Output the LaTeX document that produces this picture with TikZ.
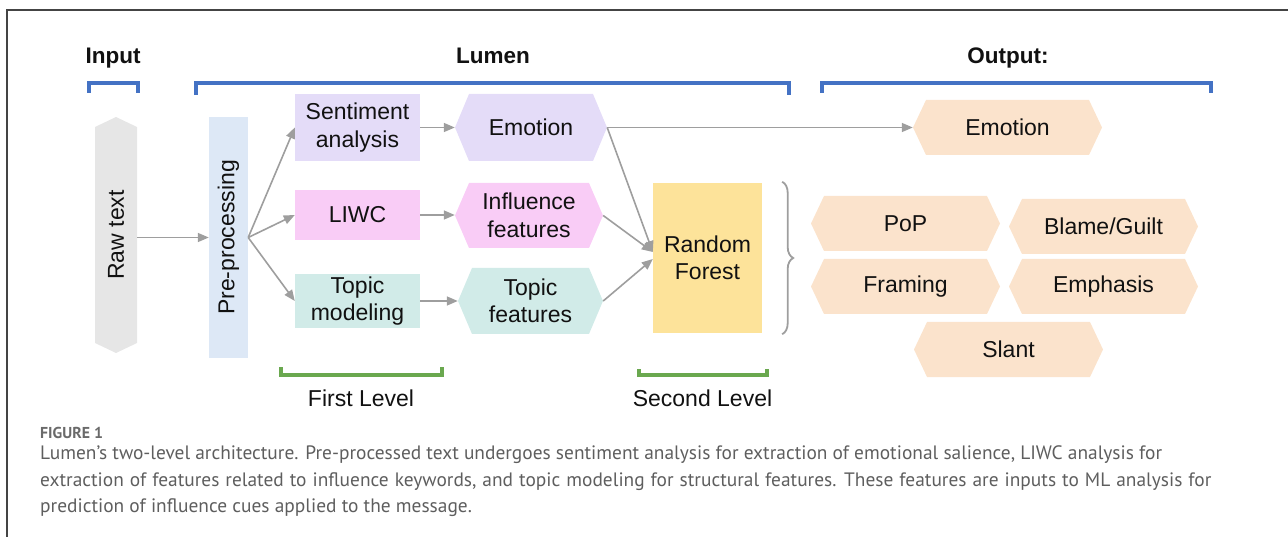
\documentclass[tikz,border=0pt]{standalone}
\usepackage{graphicx}
\usepackage{fontspec}
\setmainfont{Liberation Sans}
\newfontfamily\capfont{PT Sans}
\usetikzlibrary{arrows.meta,decorations.pathreplacing}

\definecolor{rawfill}{HTML}{E6E6E6}
\definecolor{prefill}{HTML}{DDE8F6}
\definecolor{lavfill}{HTML}{E4DCF8}
\definecolor{pinkfill}{HTML}{F9CCF6}
\definecolor{tealfill}{HTML}{D1EBE8}
\definecolor{rffill}{HTML}{FDE39A}
\definecolor{outfill}{HTML}{FBE3CC}
\definecolor{arrowgray}{HTML}{9E9E9E}
\definecolor{groupblue}{HTML}{4472C4}
\definecolor{levelgreen}{HTML}{6AA84F}
\definecolor{captiongray}{HTML}{5E5E5E}
\definecolor{labelgray}{HTML}{6A6A6A}
\definecolor{framegray}{HTML}{444444}
\definecolor{ink}{HTML}{111111}

\tikzset{
  lbl/.style={font=\fontsize{23}{27.5}\selectfont, text=ink, align=center, inner sep=0pt},
  box/.style={lbl, rectangle},
  hexa/.style 2 args={lbl, rectangle,
    path picture={\fill[#1]
      (path picture bounding box.west)
      -- ([xshift=#2]path picture bounding box.north west)
      -- ([xshift=-#2]path picture bounding box.north east)
      -- (path picture bounding box.east)
      -- ([xshift=-#2]path picture bounding box.south east)
      -- ([xshift=#2]path picture bounding box.south west)
      -- cycle;}},
  vhexa/.style 2 args={lbl, rectangle,
    path picture={\fill[#1]
      (path picture bounding box.north)
      -- ([yshift=-#2]path picture bounding box.north east)
      -- ([yshift=#2]path picture bounding box.south east)
      -- (path picture bounding box.south)
      -- ([yshift=#2]path picture bounding box.south west)
      -- ([yshift=-#2]path picture bounding box.north west)
      -- cycle;}},
  outhex/.style={hexa={outfill}{13}, minimum width=189, minimum height=55},
  arr/.style={draw=arrowgray, line width=1.6pt, -{Triangle[length=11pt,width=9pt]}, color=arrowgray},
  title/.style={font=\bfseries\fontsize{22.5}{27}\selectfont, text=ink, inner sep=0pt, anchor=base},
  level/.style={font=\fontsize{23}{27}\selectfont, text=ink, inner sep=0pt, anchor=base},
  groupbr/.style={draw=groupblue, line width=3.5pt},
  levelbr/.style={draw=levelgreen, line width=3.5pt},
  captext/.style={font=\capfont\fontsize{19.4}{23}\selectfont, text=captiongray, inner sep=0pt, anchor=base west},
}

\begin{document}
\begin{tikzpicture}[x=1pt, y=-1pt]
\useasboundingbox (0,0) rectangle (1288,537);

% figure frame
\draw[framegray, line width=1.5pt] (7,537) -- (7,10) -- (1288,10);

% section titles and their brackets
\node[title] (tin) at (113,64) {Input};
\node[title] (tlumen) at (493,64) {Lumen};
\node[title] (tout) at (1008,64) {Output:};
\draw[groupbr] (89,93) -- (89,83) -- (138,83) -- (138,93);
\draw[groupbr] (196,95) -- (196,83) -- (789,83) -- (789,95);
\draw[groupbr] (822,93) -- (822,83) -- (1211,83) -- (1211,93);

% input and pre-processing
\node[vhexa={rawfill}{10}, minimum width=42, minimum height=236] (raw) at (116,235) {\rotatebox{90}{Raw text}};
\node[box, fill=prefill, minimum width=39, minimum height=241] (pre) at (228.5,237.5) {\rotatebox{90}{Pre-processing}};

% first level
\node[box, fill=lavfill, minimum width=125, minimum height=67] (sent) at (357.5,127.5) {Sentiment\\analysis};
\node[box, fill=pinkfill, minimum width=125, minimum height=50] (liwc) at (357.5,215) {LIWC};
\node[box, fill=tealfill, minimum width=125, minimum height=54] (topic) at (357.5,301) {Topic\\modeling};

\node[hexa={lavfill}{14}, minimum width=152, minimum height=67] (emo) at (531,127.5) {Emotion};
\node[hexa={pinkfill}{14}, minimum width=148, minimum height=65] (infl) at (529,215.5) {Influence\\features};
\node[hexa={tealfill}{14}, minimum width=145, minimum height=66] (tfeat) at (530.5,301) {Topic\\features};

% second level
\node[box, fill=rffill, minimum width=109, minimum height=150] (rf) at (707.5,258) {Random\\Forest};

% outputs
\node[outhex] (oemo) at (1007.5,127.5) {Emotion};
\node[outhex] (pop) at (905.5,223.5) {PoP};
\node[outhex] (blame) at (1103.5,226.5) {Blame/Guilt};
\node[outhex] (framing) at (905.5,286.5) {Framing};
\node[outhex] (emph) at (1103.5,286.5) {Emphasis};
\node[outhex] (slant) at (1008.5,349.5) {Slant};

% connectors
\draw[arr] (raw.east |- pre.west) -- (pre.west);
\draw[arr] (pre.east) -- (sent.west);
\draw[arr] (pre.east) -- (liwc.west);
\draw[arr] (pre.east) -- (topic.west);
\draw[arr] (sent.east) -- (emo.west);
\draw[arr] (liwc.east) -- (infl.west |- liwc.east);
\draw[arr] (topic.east) -- (tfeat.west);
\draw[arr] (emo.east) -- ([yshift=6pt]rf.west);
\draw[arr] (infl.east) -- ([yshift=6pt]rf.west);
\draw[arr] (tfeat.east) -- ([yshift=-1pt]rf.west);
\draw[arr] (emo.east) -- (oemo.west);

% brace gathering the influence-cue outputs
\draw[arrowgray, line width=1.8pt, decorate, decoration={brace, amplitude=11pt}]
  ([xshift=20pt,yshift=1pt]rf.north east) -- ([xshift=20pt,yshift=-1pt]rf.south east);

% level brackets
\draw[levelbr] (281,367) -- (281,375) -- (442,375) -- (442,367);
\draw[levelbr] (639,369) -- (639,375) -- (767,375) -- (767,369);
\node[level] (first) at (361,406) {First Level};
\node[level] (second) at (702.5,406) {Second Level};

% caption
\node[captext, font=\capfont\bfseries\fontsize{15.8}{18}\selectfont, text=labelgray] (figlbl) at (40,438.5) {FIGURE 1};
\node[captext] (cap1) at (40,459.5) {Lumen’s two-level architecture. Pre-processed text undergoes sentiment analysis for extraction of emotional salience, LIWC analysis for};
\node[captext] (cap2) at (40,486.5) {\spaceskip=0.31em plus 0.1em extraction of features related to influence keywords, and topic modeling for structural features. These features are inputs to ML analysis for};
\node[captext] (cap3) at (40,512.5) {prediction of influence cues applied to the message.};
\end{tikzpicture}
\end{document}
